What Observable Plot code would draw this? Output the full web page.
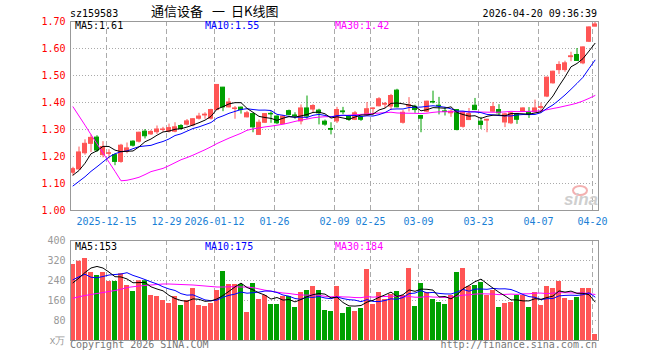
<!DOCTYPE html>
<html><head><meta charset="utf-8">
<script src="https://cdn.jsdelivr.net/npm/d3@7"></script>
<script src="https://cdn.jsdelivr.net/npm/@observablehq/plot@0.6"></script>
<style>
html,body{margin:0;padding:0;background:#fff;}
#wrap{position:relative;width:660px;height:360px;overflow:hidden;font-family:"DejaVu Sans Mono",monospace;font-size:10px;}
.t{position:absolute;white-space:pre;line-height:10px;}
#price,#vol{position:absolute;left:0;}
#price{top:0}
#vol{top:230px}
</style></head><body>
<div id="wrap">
 <div id="price"></div><div id="vol"></div>
 <div class="t" style="left:70px;top:8.5px;color:#000">sz159583</div>
 <div class="t" style="left:151px;top:4px;font:13px 'Noto Sans CJK SC';line-height:13px;color:#000">通信设备<span style="margin-left:9px">一</span><span style="margin-left:6px">日K线图</span></div>
 <div class="t" style="right:63px;top:8.5px;color:#000">2026-04-20 09:36:39</div>
 <div class="t" style="left:75px;top:21px;color:#000">MA5:1.61</div>
 <div class="t" style="left:205px;top:21px;color:#0000ff">MA10:1.55</div>
 <div class="t" style="left:335px;top:21px;color:#ff00ff">MA30:1.42</div>
 <div class="t" style="left:75px;top:241.5px;color:#000">MA5:153</div>
 <div class="t" style="left:205px;top:241.5px;color:#0000ff">MA10:175</div>
 <div class="t" style="left:335px;top:241.5px;color:#ff00ff">MA30:184</div>
 <div class="t" style="left:70px;top:339.5px;color:#777">Copyright 2026 SINA.COM</div>
 <div class="t" style="right:63px;top:339.5px;color:#777">http://finance.sina.com.cn</div>
 <div style="position:absolute;left:572px;top:185px;width:12px;height:7px;border:2px solid #f3b0b0;border-radius:50%"></div>
 <div class="t" style="left:564px;top:193px;font:italic bold 17px 'Liberation Sans';line-height:14px;color:#cfcfcf">sina</div>
</div>
<script>
// ---- data ----
const opens  = [1.140,1.152,1.212,1.247,1.270,1.205,1.210,1.205,1.180,1.217,
                1.255,1.255,1.292,1.282,1.290,1.298,1.292,1.292,1.313,1.318,
                1.315,1.340,1.352,1.340,1.372,1.455,1.382,1.376,1.381,1.345,
                1.357,1.280,1.325,1.358,1.348,1.320,1.368,1.352,1.330,1.378,
                1.374,1.370,1.329,1.302,1.330,1.367,1.350,1.336,1.345,1.352,
                1.376,1.386,1.392,1.385,1.444,1.325,1.385,1.384,1.350,1.366,
                1.402,1.388,1.367,1.360,1.372,1.310,1.335,1.388,1.329,1.333,
                1.366,1.372,1.326,1.323,1.356,1.366,1.362,1.364,1.380,1.422,
                1.471,1.520,1.520,1.568,1.576,1.545,1.625,1.681];
const highs  = [1.160,1.235,1.262,1.280,1.277,1.255,1.225,1.210,1.245,1.250,
                1.258,1.290,1.300,1.296,1.313,1.308,1.320,1.325,1.318,1.337,
                1.340,1.360,1.362,1.375,1.465,1.456,1.415,1.385,1.383,1.367,
                1.360,1.335,1.358,1.366,1.350,1.352,1.372,1.362,1.391,1.424,
                1.392,1.375,1.335,1.325,1.382,1.382,1.352,1.367,1.350,1.400,
                1.380,1.418,1.400,1.430,1.449,1.370,1.418,1.390,1.352,1.405,
                1.442,1.419,1.382,1.372,1.374,1.366,1.378,1.415,1.345,1.338,
                1.400,1.392,1.360,1.362,1.358,1.380,1.381,1.409,1.398,1.494,
                1.516,1.551,1.553,1.586,1.600,1.606,1.680,1.697];
const lows   = [1.128,1.150,1.205,1.215,1.215,1.195,1.190,1.166,1.175,1.210,
                1.235,1.250,1.265,1.278,1.282,1.290,1.287,1.288,1.298,1.313,
                1.310,1.335,1.338,1.335,1.370,1.366,1.380,1.338,1.357,1.343,
                1.288,1.278,1.322,1.323,1.318,1.318,1.350,1.338,1.317,1.338,
                1.362,1.317,1.312,1.280,1.322,1.355,1.330,1.333,1.330,1.348,
                1.350,1.384,1.378,1.370,1.380,1.320,1.365,1.360,1.288,1.362,
                1.395,1.354,1.350,1.345,1.295,1.305,1.333,1.370,1.300,1.288,
                1.364,1.352,1.307,1.318,1.319,1.364,1.341,1.362,1.362,1.418,
                1.468,1.504,1.512,1.551,1.553,1.540,1.622,1.680];
const closes = [1.153,1.215,1.247,1.269,1.222,1.235,1.212,1.180,1.240,1.230,
                1.240,1.288,1.275,1.291,1.300,1.300,1.305,1.308,1.302,1.330,
                1.338,1.348,1.355,1.372,1.465,1.382,1.400,1.378,1.372,1.360,
                1.308,1.325,1.357,1.356,1.323,1.348,1.354,1.349,1.378,1.348,
                1.387,1.360,1.318,1.299,1.372,1.364,1.336,1.360,1.336,1.375,
                1.378,1.412,1.395,1.424,1.382,1.362,1.390,1.372,1.340,1.403,
                1.400,1.386,1.365,1.366,1.298,1.362,1.357,1.372,1.317,1.336,
                1.383,1.360,1.356,1.360,1.336,1.378,1.354,1.378,1.383,1.492,
                1.514,1.539,1.545,1.571,1.554,1.604,1.678,1.689];
// volume, in 万
const volumes = [304,317,328,272,260,272,236,236,267,220,
                 196,239,239,180,176,160,148,176,140,160,
                 208,140,136,148,200,276,224,224,224,112,
                 228,164,180,144,144,176,176,132,192,200,
                 216,200,120,116,216,108,132,116,128,284,
                 144,192,164,184,196,180,288,136,228,192,
                 164,152,144,180,272,288,216,220,232,180,
                 200,132,148,152,180,180,132,192,140,216,
                 208,236,168,160,172,208,208,24];
// moving-average values at the start of the window (they include days before the chart)
const ma5Head  = [1.131,1.148,1.175,1.210];
const ma10Head = [1.091,1.108,1.125,1.145,1.162,1.180,1.198,1.210,1.218];
const ma30Head = [1.384,1.350,1.316,1.281,1.247,1.213,1.179,1.145,1.110,1.112,
                  1.117,1.123,1.133,1.144,1.150,1.156,1.166,1.177,1.188,1.196,
                  1.205,1.215,1.225,1.236,1.248,1.258,1.268,1.277,1.286];
const vma5Head  = [231,250,272,290];
const vma10Head = [243,255,265,253,251,256,262,264,266];
const vma30Head = [169,175,180,184,188,192,196,200,205,212,
                   215,218,220,222,224,226,226,225,224,223,
                   222,220,218,216,214,214,215,215,214];
const dateTickIndex  = [6,16,24,34,44,50,58,68,78,87];
const dateTickLabels = ["2025-12-15","12-29","2026-01-12","01-26","02-09","02-25","03-09","03-23","04-07","04-20"];
const priceTicks = [1.0,1.1,1.2,1.3,1.4,1.5,1.6,1.7];
const volTicks   = [0,80,160,240,320,400];

// ---- drawing ----
const RED = "#ff5555", GREEN = "#00a000", GRID = "#aaaaaa", FRAME = "#999999";
const n = closes.length;
const idx = d3.range(n);
const candles = idx.map(i => ({i, o: opens[i], h: highs[i], l: lows[i], c: closes[i], v: volumes[i], up: closes[i] >= opens[i]}));
const rolling = (vals, k, head) => idx.map(i => i < head.length ? head[i] : d3.mean(vals.slice(i - k + 1, i + 1)));
const ma5 = rolling(closes, 5, ma5Head), ma10 = rolling(closes, 10, ma10Head), ma30 = rolling(closes, 30, ma30Head);
const vma5 = rolling(volumes, 5, vma5Head), vma10 = rolling(volumes, 10, vma10Head), vma30 = rolling(volumes, 30, vma30Head);
const mid = i => i + 2.5 / 6;
const labelOf = new Map(dateTickIndex.map((d, k) => [d, dateTickLabels[k]]));
const style = {fontFamily: "'DejaVu Sans Mono', monospace", fontSize: "10px", overflow: "visible", background: "transparent"};
const col = d => d.up ? RED : GREEN;
const maLines = (arrs) => arrs.map(([a, s]) => Plot.line(idx, {x: mid, y: i => a[i], stroke: s, strokeWidth: 1}));

const price = Plot.plot({
  width: 660, height: 230,
  marginLeft: 70, marginRight: 62, marginTop: 21, marginBottom: 20,
  style,
  x: {type: "linear", domain: [0, n], axis: null, label: null},
  y: {domain: [1.0, 1.7], axis: null, label: null},
  color: {type: "identity"},
  marks: [
    Plot.gridY(priceTicks.slice(1, -1), {stroke: GRID, strokeOpacity: 1, strokeDasharray: "1,2"}),
    Plot.gridX(dateTickIndex, {stroke: GRID, strokeOpacity: 1, strokeDasharray: "5,3"}),
    Plot.ruleX(candles, {x: d => mid(d.i), y1: "l", y2: "h", stroke: col}),
    Plot.rect(candles, {x1: "i", x2: d => d.i + 1, y1: d => Math.min(d.o, d.c), y2: d => Math.max(d.o, d.c),
      fill: col, stroke: col, strokeWidth: 1, insetLeft: 0.5, insetRight: 1.5}),
    ...maLines([[ma30, "#ff00ff"], [ma10, "#0000ff"], [ma5, "#000000"]]),
    Plot.frame({stroke: FRAME}),
    Plot.axisY({ticks: priceTicks, tickFormat: d3.format(".2f"), tickSize: 0, tickPadding: 5, color: "#ff0000", fontSize: 10, label: null}),
    Plot.axisX({ticks: dateTickIndex, tickFormat: d => labelOf.get(d), tickSize: 0, tickPadding: 7, color: "#1a7fd6", fontSize: 10, label: null})
  ]
});
document.getElementById("price").appendChild(price);

const vol = Plot.plot({
  width: 660, height: 130,
  marginLeft: 70, marginRight: 62, marginTop: 10, marginBottom: 20,
  style,
  x: {type: "linear", domain: [0, n], axis: null, label: null},
  y: {domain: [0, 400], axis: null, label: null},
  color: {type: "identity"},
  marks: [
    Plot.gridY(volTicks.slice(1, -1), {stroke: GRID, strokeOpacity: 1, strokeDasharray: "1,2"}),
    Plot.gridX(dateTickIndex, {stroke: GRID, strokeOpacity: 1, strokeDasharray: "5,3"}),
    Plot.rectY(candles, {x1: "i", x2: d => d.i + 1, y: "v", fill: col, insetRight: 1}),
    ...maLines([[vma30, "#ff00ff"], [vma10, "#0000ff"], [vma5, "#000000"]]),
    Plot.frame({stroke: FRAME}),
    Plot.axisY({ticks: volTicks, tickFormat: d => d === 0 ? "x万" : String(d), tickSize: 0, tickPadding: 5, color: "#999999", fontSize: 10, label: null})
  ]
});
document.getElementById("vol").appendChild(vol);
</script>
</body></html>
